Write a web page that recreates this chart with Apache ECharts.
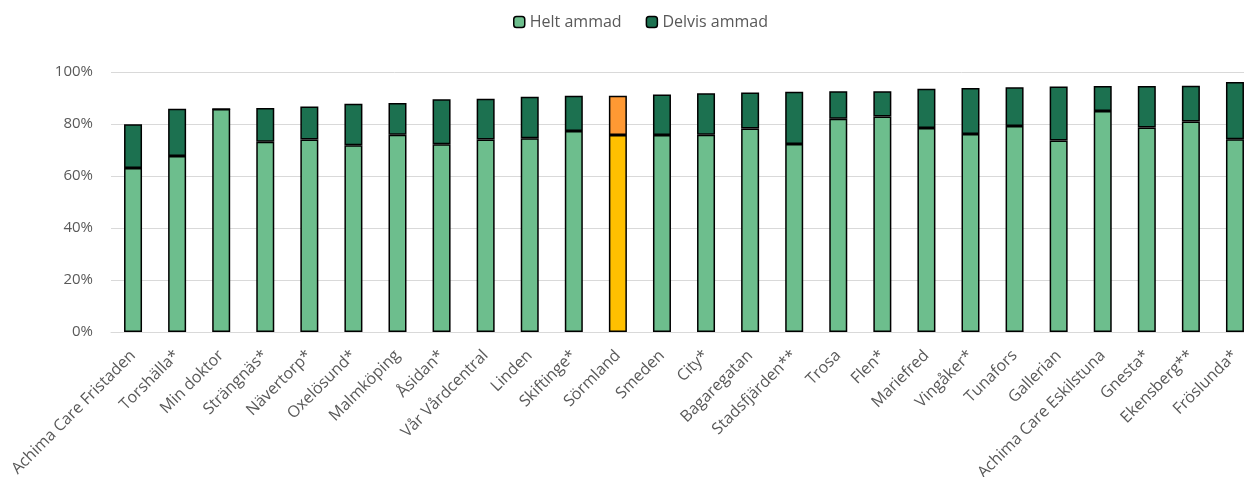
<!DOCTYPE html>
<html>
<head>
<meta charset="utf-8">
<script src="https://cdn.jsdelivr.net/npm/echarts@6/dist/echarts.min.js"></script>
<style>
html,body{margin:0;padding:0;background:#fff;}
#chart{width:1244px;height:477px;}
</style>
</head>
<body>
<div id="chart"></div>
<script>
const categories = ["Achima Care Fristaden","Torshälla*","Min doktor","Strängnäs*","Nävertorp*","Oxelösund*","Malmköping","Åsidan*","Vår Vårdcentral","Linden","Skiftinge*","Sörmland","Smeden","City*","Bagaregatan","Stadsfjärden**","Trosa","Flen*","Mariefred","Vingåker*","Tunafors","Gallerian","Achima Care Eskilstuna","Gnesta*","Ekensberg**","Fröslunda*"];
const heltAmmad = [63.1,67.7,85.8,73.2,74.0,71.8,75.9,72.2,74.0,74.5,77.3,75.8,75.8,75.9,78.3,72.3,82.0,82.9,78.5,76.2,79.2,73.7,85.0,78.7,81.0,74.1];
const totalAmmad = [79.9,85.9,85.8,86.2,86.7,87.8,88.1,89.5,89.7,90.5,90.9,90.9,91.3,91.8,92.1,92.4,92.6,92.6,93.6,93.8,94.1,94.4,94.6,94.6,94.7,96.2];
const delvisAmmad = totalAmmad.map((t,i)=>+(t-heltAmmad[i]).toFixed(1));
const yTicks = [0,20,40,60,80,100];
const highlight = "Sörmland";

const font = "'Open Sans', 'Liberation Sans', sans-serif";
const heltColor = "#6DBE8D", delvisColor = "#1C7150";
const heltHi = "#FFC000", delvisHi = "#FF9933";

const chart = echarts.init(document.getElementById('chart'), null, {renderer:'canvas'});
const mk = (arr, hiColor) => arr.map((v,i)=> categories[i]===highlight ? {value:v, itemStyle:{color:hiColor}} : v);
chart.setOption({
  animation:false,
  textStyle:{fontFamily:font},
  legend:{
    top:9, left:508,
    itemWidth:11, itemHeight:11, itemGap:24,
    textStyle:{color:'#595959', fontSize:16, fontFamily:font},
    data:[{name:'Helt ammad', itemStyle:{color:heltColor, borderColor:'#000', borderWidth:1.5}},
          {name:'Delvis ammad', itemStyle:{color:delvisColor, borderColor:'#000', borderWidth:1.5}}]
  },
  grid:{left:111, top:72, width:1146, height:260, containLabel:false, outerBoundsMode:'none'},
  xAxis:{
    type:'category', data:categories,
    axisLine:{lineStyle:{color:'#D9D9D9', width:1}},
    axisTick:{show:false},
    axisLabel:{rotate:45, interval:0, color:'#595959', fontSize:16, fontFamily:font, margin:21}
  },
  yAxis:{
    type:'value', min:0, max:100, interval:20,
    axisLine:{show:false}, axisTick:{show:false},
    splitLine:{lineStyle:{color:'#D9D9D9', width:1}},
    axisLabel:{formatter:v=>v+'%', color:'#595959', fontSize:15, fontFamily:font, margin:18}
  },
  series:[
    {name:'Helt ammad', type:'bar', stack:'a', barWidth:18, data:mk(heltAmmad, heltHi),
     itemStyle:{color:heltColor, borderColor:'#000', borderWidth:1.5}},
    {name:'Delvis ammad', type:'bar', stack:'a', barWidth:18, data:mk(delvisAmmad, delvisHi),
     itemStyle:{color:delvisColor, borderColor:'#000', borderWidth:1.5}}
  ]
});
</script>
</body>
</html>
